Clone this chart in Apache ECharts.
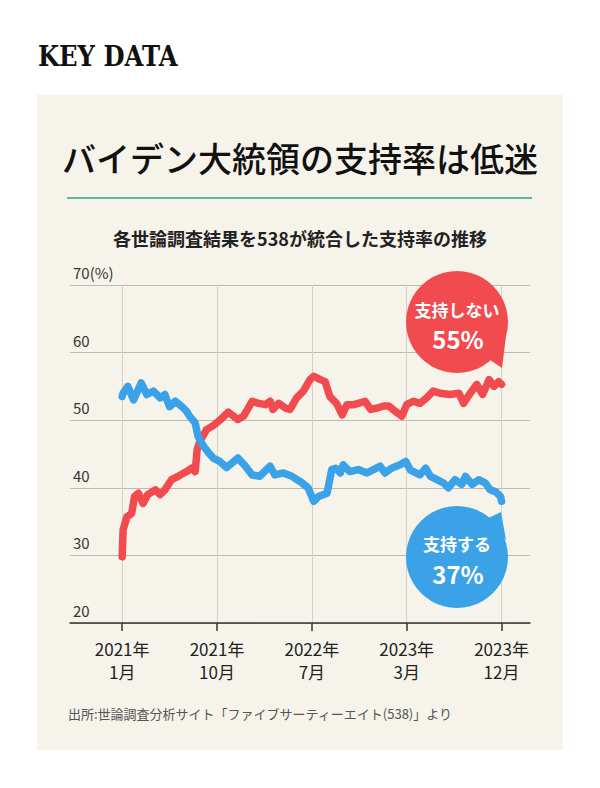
<!DOCTYPE html>
<html>
<head>
<meta charset="utf-8">
<script src="https://cdn.jsdelivr.net/npm/echarts@6/dist/echarts.min.js"></script>
<style>
html,body{margin:0;padding:0;background:#ffffff;}
#c{width:600px;height:788px;}
</style>
</head>
<body>
<div id="c"></div>
<script>
// ---- data ----
const tickPos = [0, 1, 2, 3, 4];
const tickLabels = ['2021年\n1月', '2021年\n10月', '2022年\n7月', '2023年\n3月', '2023年\n12月'];
const yMin = 20, yMax = 70, yStep = 10;

// 支持する (approve)
const approveX = [0, 0.01, 0.06, 0.12, 0.20, 0.26, 0.33, 0.40, 0.45, 0.50, 0.56, 0.63, 0.68, 0.71, 0.77, 0.80, 0.86, 0.91, 0.96,
  1.03, 1.10, 1.22, 1.30, 1.37, 1.45, 1.56, 1.61, 1.70, 1.79, 1.88, 1.96, 2.02, 2.07, 2.16, 2.21, 2.25, 2.30, 2.33, 2.40,
  2.49, 2.58, 2.65, 2.72, 2.77, 2.84, 2.93, 2.99, 3.04, 3.14, 3.20, 3.25, 3.32, 3.39, 3.44, 3.51, 3.58, 3.62, 3.69, 3.76,
  3.83, 3.88, 3.94, 3.99, 4.0];
const approveY = [53.5, 54.0, 55.0, 53.0, 55.5, 53.8, 54.3, 53.3, 53.8, 52.0, 52.8, 52.0, 51.3, 50.6, 49.6, 47.6, 46.1, 45.2, 44.4,
  43.9, 43.0, 44.4, 43.2, 41.9, 41.7, 43.2, 41.9, 42.2, 41.7, 40.9, 40.0, 38.0, 38.7, 39.2, 42.7, 42.9, 42.2, 43.4, 42.4,
  42.7, 42.2, 42.7, 43.2, 42.2, 42.9, 43.4, 43.9, 42.6, 41.9, 42.9, 41.7, 41.2, 40.7, 40.0, 41.2, 40.5, 41.7, 40.5, 41.2,
  40.7, 39.7, 39.4, 38.7, 38.0];

// 支持しない (disapprove)
const disapproveX = [0, 0.01, 0.05, 0.10, 0.13, 0.17, 0.22, 0.27, 0.35, 0.40, 0.45, 0.52, 0.59, 0.68, 0.73, 0.77, 0.79, 0.82,
  0.89, 0.96, 1.03, 1.12, 1.22, 1.28, 1.37, 1.44, 1.51, 1.56, 1.59, 1.65, 1.72, 1.77, 1.84, 1.91, 1.98, 2.02, 2.09, 2.14,
  2.19, 2.26, 2.32, 2.37, 2.44, 2.49, 2.56, 2.62, 2.69, 2.76, 2.81, 2.88, 2.95, 3.00, 3.07, 3.14, 3.21, 3.28, 3.35, 3.46,
  3.55, 3.60, 3.67, 3.74, 3.80, 3.87, 3.92, 3.97, 4.0];
const disapproveY = [29.8, 33.8, 35.7, 36.2, 38.7, 39.2, 37.7, 39.0, 39.7, 39.0, 39.7, 41.2, 41.7, 42.4, 42.9, 42.4, 45.6, 46.9,
  48.6, 49.2, 50.0, 51.2, 50.1, 50.6, 52.8, 52.5, 52.3, 52.8, 51.6, 52.5, 51.8, 51.6, 53.3, 54.3, 56.0, 56.5, 56.0, 55.7,
  53.5, 52.5, 50.8, 52.3, 52.3, 52.5, 52.8, 51.6, 51.8, 52.1, 52.1, 51.3, 50.6, 52.3, 52.8, 52.5, 53.3, 54.3, 54.0, 53.8,
  54.0, 52.5, 54.0, 55.3, 53.8, 56.0, 55.0, 55.7, 55.3];

const approveLabel = '支持する', approveLatest = '37%';
const disapproveLabel = '支持しない', disapproveLatest = '55%';

// ---- chart ----
const RED = '#f24b4f', BLUE = '#3ca2e8';
const JP = '"Noto Sans CJK JP", "Noto Sans", sans-serif';

const chart = echarts.init(document.getElementById('c'), null, {renderer: 'svg', width: 600, height: 788});

const toPairs = (xs, ys) => xs.map((x, i) => [x, ys[i]]);

chart.setOption({
  backgroundColor: '#ffffff',
  animation: false,
  grid: {left: 70, right: 70, top: 285, bottom: 165, containLabel: false},
  xAxis: {
    type: 'value',
    min: -0.55, max: 4.3,
    axisLine: {show: true, lineStyle: {color: '#333333', width: 1.5}},
    axisTick: {show: true, customValues: tickPos, length: 8, lineStyle: {color: '#333333', width: 1.5}},
    axisLabel: {
      customValues: tickPos,
      formatter: v => tickLabels[tickPos.indexOf(Math.round(v))],
      fontFamily: JP, fontSize: 17, lineHeight: 23, color: '#222222', margin: 14
    },
    splitLine: {show: true, lineStyle: {color: '#d4d0c6', width: 1}}
  },
  yAxis: {
    type: 'value',
    min: yMin, max: yMax, interval: yStep,
    axisLine: {show: false},
    axisTick: {show: false},
    axisLabel: {
      inside: true, margin: 3, verticalAlign: 'bottom', padding: [0, 0, 5, 0],
      formatter: v => v === yMax ? v + '(%)' : String(v),
      fontFamily: JP, fontSize: 15, color: '#333333'
    },
    splitLine: {show: true, lineStyle: {color: '#bdb9b0', width: 1}}
  },
  series: [
    {
      name: disapproveLabel, type: 'line', data: toPairs(disapproveX, disapproveY),
      symbol: 'none', smooth: false, z: 3,
      lineStyle: {color: RED, width: 7.5, cap: 'round', join: 'round'}
    },
    {
      name: approveLabel, type: 'line', data: toPairs(approveX, approveY),
      symbol: 'none', smooth: false, z: 4,
      lineStyle: {color: BLUE, width: 7.5, cap: 'round', join: 'round'}
    }
  ],
  graphic: [
    {type: 'rect', z: -100, silent: true, shape: {x: 37, y: 95, width: 526, height: 655}, style: {fill: '#f6f3ea'}},
    {type: 'text', z: 10, x: 38, y: 57, scaleX: 0.9, style: {x: 0, y: 0, text: 'KEY DATA', fontFamily: '"DejaVu Serif", serif', fontWeight: 'bold', fontSize: 27, fill: '#111111', verticalAlign: 'middle'}},
    {type: 'text', z: 10, style: {x: 300, y: 157, text: 'バイデン大統領の支持率は低迷', fontFamily: JP, fontWeight: 500, fontSize: 34, fill: '#111111', align: 'center', verticalAlign: 'middle'}},
    {type: 'line', z: 10, shape: {x1: 67, y1: 198, x2: 532, y2: 198}, style: {stroke: '#5cb8a5', lineWidth: 2}},
    {type: 'text', z: 10, style: {x: 300, y: 238, text: '各世論調査結果を538が統合した支持率の推移', fontFamily: JP, fontWeight: 'bold', fontSize: 18, fill: '#222222', align: 'center', verticalAlign: 'middle'}},
    {type: 'text', z: 10, style: {x: 68, y: 713, text: '出所:世論調査分析サイト「ファイブサーティーエイト(538)」より', fontFamily: JP, fontSize: 13, fill: '#555555', verticalAlign: 'middle'}},
    // disapprove bubble
    {type: 'circle', z: 20, shape: {cx: 457, cy: 322, r: 51}, style: {fill: RED}},
    {type: 'polygon', z: 20, shape: {points: [[484, 356], [506, 336], [502, 368]]}, style: {fill: RED}},
    {type: 'text', z: 21, style: {x: 457, y: 309, text: disapproveLabel, fontFamily: JP, fontWeight: 'bold', fontSize: 17, fill: '#ffffff', align: 'center', verticalAlign: 'middle'}},
    {type: 'text', z: 21, style: {x: 458, y: 338, text: disapproveLatest, fontFamily: JP, fontWeight: 'bold', fontSize: 24, fill: '#ffffff', align: 'center', verticalAlign: 'middle'}},
    // approve bubble
    {type: 'circle', z: 20, shape: {cx: 457, cy: 557, r: 51}, style: {fill: BLUE}},
    {type: 'polygon', z: 20, shape: {points: [[484, 520], [506, 540], [501, 512]]}, style: {fill: BLUE}},
    {type: 'text', z: 21, style: {x: 457, y: 543, text: approveLabel, fontFamily: JP, fontWeight: 'bold', fontSize: 17, fill: '#ffffff', align: 'center', verticalAlign: 'middle'}},
    {type: 'text', z: 21, style: {x: 458, y: 573, text: approveLatest, fontFamily: JP, fontWeight: 'bold', fontSize: 24, fill: '#ffffff', align: 'center', verticalAlign: 'middle'}}
  ]
});
</script>
</body>
</html>
